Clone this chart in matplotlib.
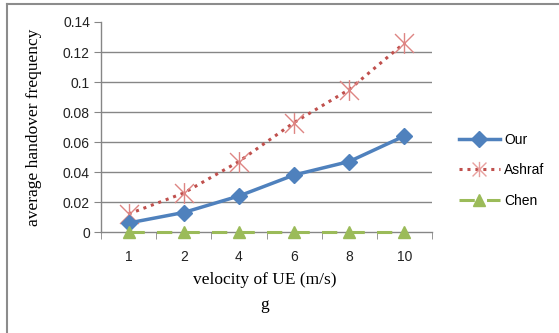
import matplotlib.pyplot as plt
from matplotlib.lines import Line2D
from matplotlib.path import Path

# handover frequency vs UE velocity
velocity = ['1', '2', '4', '6', '8', '10']
our = [0.006, 0.013, 0.024, 0.038, 0.047, 0.064]
ashraf = [0.012, 0.026, 0.047, 0.073, 0.095, 0.126]
chen = [0, 0, 0, 0, 0, 0]
yticks = [0, 0.02, 0.04, 0.06, 0.08, 0.1, 0.12, 0.14]
ytick_labels = ['0', '0.02', '0.04', '0.06', '0.08', '0.1', '0.12', '0.14']

blue = '#4F81BD'
red = '#C0504D'
green = '#9BBB59'
grid = '#868686'

# star marker: an X crossed by a vertical bar
star = Path([(-1, -1), (1, 1), (-1, 1), (1, -1), (0, -1.1), (0, 1.1)],
            [Path.MOVETO, Path.LINETO, Path.MOVETO, Path.LINETO,
             Path.MOVETO, Path.LINETO])

fig = plt.figure(figsize=(5.59, 3.33), dpi=100)
W, H = 559, 333
ax = fig.add_axes([101 / W, 1 - 232 / H, (432 - 101) / W, (232 - 22) / H])

x = list(range(len(velocity)))

ax.plot(x, our, color=blue, lw=2.5, marker='D', ms=8, mfc=blue, mec=blue,
        zorder=4, clip_on=False, label='Our')
ax.plot(x, ashraf, color=red, lw=2.2, ls=(0, (1, 1.6)), marker=star,
        ms=15, mec='#DE8583', mew=1.0, zorder=3, clip_on=False, label='Ashraf')
ax.plot(x, chen, color=green, lw=2.2, ls=(0, (5, 4)), marker='^', ms=9,
        mfc=green, mec=green, zorder=5, clip_on=False, label='Chen')

ax.set_xlim(-0.5, len(velocity) - 0.5)
ax.set_ylim(0, 0.14)
ax.set_xticks(x)
ax.set_xticklabels(velocity)
ax.set_xticks([i - 0.5 for i in range(len(velocity) + 1)], minor=True)
ax.set_yticks(yticks)
ax.set_yticklabels(ytick_labels)

for v in yticks[1:-1]:
    ax.axhline(v, color=grid, lw=1, zorder=1)

for side in ['top', 'right']:
    ax.spines[side].set_visible(False)
for side in ['left', 'bottom']:
    ax.spines[side].set_color(grid)
    ax.spines[side].set_linewidth(1)

ax.tick_params(axis='x', which='major', length=0, pad=13,
               labelsize=10, labelcolor='#222222')
ax.tick_params(axis='x', which='minor', length=5, color=grid, direction='out')
ax.tick_params(axis='y', length=5, color=grid, direction='out', pad=3,
               labelsize=10, labelcolor='#222222')
for lbl in ax.get_xticklabels() + ax.get_yticklabels():
    lbl.set_family('Liberation Sans')

ax.set_xlabel('velocity of UE (m/s)', family='Liberation Serif', fontsize=12.5)
ax.xaxis.set_label_coords((265 - 101) / (432 - 101), -(272 - 232) / (232 - 22))
fig.text(265 / W, 1 - 305 / H, 'g', family='Liberation Serif', fontsize=12.5,
         ha='center', va='center')
ax.set_ylabel('average handover frequency', family='Liberation Serif',
              fontsize=12.5)
ax.yaxis.set_label_coords(-(101 - 42) / (432 - 101), 0.5)

handles = [
    Line2D([], [], color=blue, lw=2.5, marker='D', ms=8, mfc=blue, mec=blue),
    Line2D([], [], color=red, lw=2.2, ls=(0, (1, 1.6)), marker=star,
           ms=11, mec='#E8A09E', mew=1.0),
    Line2D([], [], color=green, lw=2.2, ls=(0, (5, 4)), marker='^', ms=9,
           mfc=green, mec=green),
]
leg = fig.legend(handles, ['Our', 'Ashraf', 'Chen'], loc='upper left',
                 bbox_to_anchor=(446 / W, 1 - 120 / H), frameon=False,
                 prop={'family': 'Liberation Sans', 'size': 10},
                 handlelength=3.0, handletextpad=0.3, labelspacing=1.2)

# outer chart frame: only top and left edges
fig.add_artist(Line2D([7 / W, 1], [1 - 4 / H, 1 - 4 / H], color='#8C8C8C',
                      lw=1.5, transform=fig.transFigure))
fig.add_artist(Line2D([7 / W, 7 / W], [0, 1 - 4 / H], color='#8C8C8C',
                      lw=1.5, transform=fig.transFigure))

fig.savefig('out.png', dpi=100)
